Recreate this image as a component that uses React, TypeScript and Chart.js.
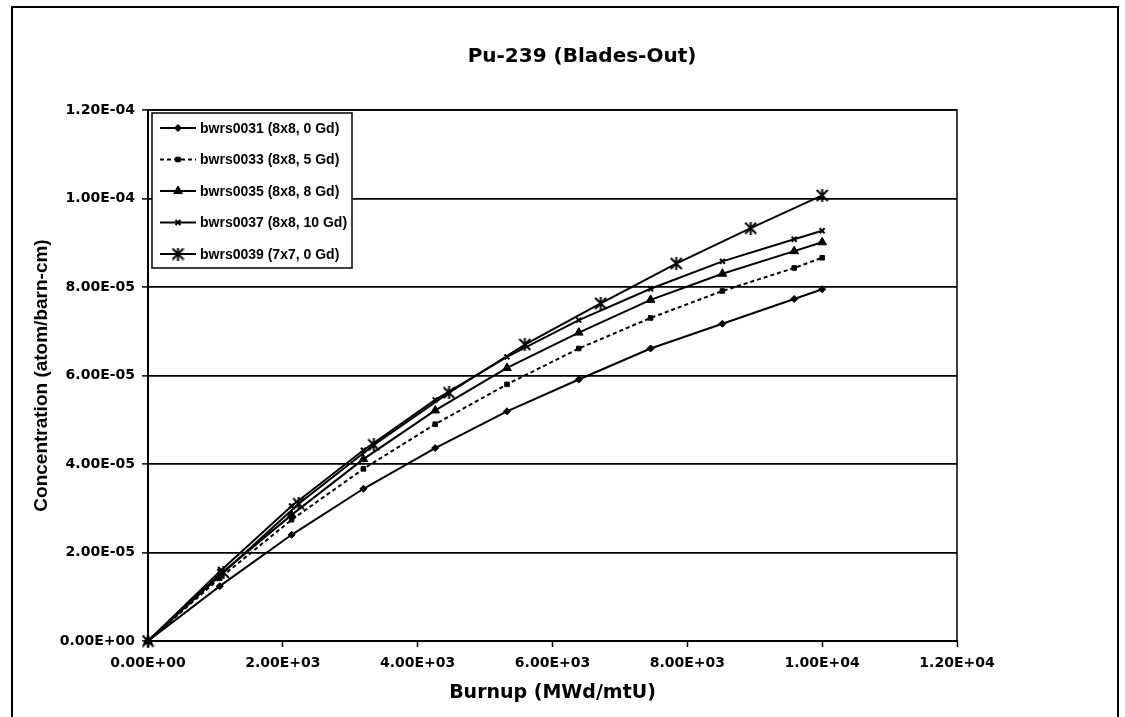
import React, { useEffect, useRef } from "react";
import { Chart, registerables } from "chart.js";
import { drawPoint } from "chart.js/helpers";

Chart.register(...registerables);

const W = 1125;
const H = 717;

const chartTitle = "Pu-239 (Blades-Out)";
const xAxisTitle = "Burnup (MWd/mtU)";
const yAxisTitle = "Concentration (atom/barn-cm)";

const seriesLabels = [
  "bwrs0031 (8x8, 0 Gd)",
  "bwrs0033 (8x8, 5 Gd)",
  "bwrs0035 (8x8, 8 Gd)",
  "bwrs0037 (8x8, 10 Gd)",
  "bwrs0039 (7x7, 0 Gd)",
];

// burnup steps for the 8x8 cases
const burnup8x8 = [0, 1065, 2130, 3195, 4260, 5325, 6390, 7455, 8520, 9585, 10000];
// burnup steps for the 7x7 case
const burnup7x7 = [0, 1120, 2235, 3350, 4465, 5590, 6715, 7835, 8940, 10000];

const bwrs0031 = [0, 1.24e-5, 2.4e-5, 3.44e-5, 4.36e-5, 5.19e-5, 5.91e-5, 6.61e-5, 7.17e-5, 7.73e-5, 7.95e-5];
const bwrs0033 = [0, 1.42e-5, 2.74e-5, 3.89e-5, 4.9e-5, 5.8e-5, 6.61e-5, 7.3e-5, 7.91e-5, 8.43e-5, 8.66e-5];
const bwrs0035 = [0, 1.5e-5, 2.85e-5, 4.11e-5, 5.21e-5, 6.17e-5, 6.97e-5, 7.71e-5, 8.3e-5, 8.81e-5, 9.01e-5];
const bwrs0037 = [0, 1.57e-5, 3.05e-5, 4.31e-5, 5.45e-5, 6.42e-5, 7.25e-5, 7.96e-5, 8.58e-5, 9.08e-5, 9.27e-5];
const bwrs0039 = [0, 1.55e-5, 3.1e-5, 4.43e-5, 5.61e-5, 6.7e-5, 7.63e-5, 8.53e-5, 9.33e-5, 1.007e-4];

const xTickValues = [0, 2000, 4000, 6000, 8000, 10000, 12000];
const xTickLabels = ["0.00E+00", "2.00E+03", "4.00E+03", "6.00E+03", "8.00E+03", "1.00E+04", "1.20E+04"];
const yTickValues = [0, 2e-5, 4e-5, 6e-5, 8e-5, 1e-4, 1.2e-4];
const yTickLabels = ["0.00E+00", "2.00E-05", "4.00E-05", "6.00E-05", "8.00E-05", "1.00E-04", "1.20E-04"];

const markerRadii = [3.5, 3.2, 5, 3.5, 6];
const dashes: number[][] = [[], [4, 3], [], [], []];

const FONT = '"DejaVu Sans", sans-serif';
const ARIAL = '"Liberation Sans", Arial, sans-serif';

function makeAsterisk(size: number) {
  const c = document.createElement("canvas");
  c.width = size;
  c.height = size;
  const g = c.getContext("2d")!;
  g.strokeStyle = "#000";
  g.lineWidth = 2;
  g.lineCap = "butt";
  const m = size / 2;
  const r = size / 2 - 1;
  g.beginPath();
  g.moveTo(m - r, m - r);
  g.lineTo(m + r, m + r);
  g.moveTo(m + r, m - r);
  g.lineTo(m - r, m + r);
  g.moveTo(m, 0);
  g.lineTo(m, size);
  g.stroke();
  return c;
}

function zip(xs: number[], ys: number[]) {
  return ys.map((y, i) => ({ x: xs[i], y }));
}

const seriesData = [
  zip(burnup8x8, bwrs0031),
  zip(burnup8x8, bwrs0033),
  zip(burnup8x8, bwrs0035),
  zip(burnup8x8, bwrs0037),
  zip(burnup7x7, bwrs0039),
];

export default function App() {
  const ref = useRef<HTMLCanvasElement>(null);
  useEffect(() => {
    const canvas = ref.current!;
    const asterisk = makeAsterisk(13);
    const markerStyles: any[] = ["rectRot", "rect", "triangle", "crossRot", asterisk];

    const decorPlugin = {
      id: "decor",
      beforeDraw(chart: any) {
        const ctx = chart.ctx;
        ctx.save();
        ctx.fillStyle = "#fff";
        ctx.fillRect(0, 0, chart.width, chart.height);
        ctx.restore();
      },
      afterDraw(chart: any) {
        const ctx = chart.ctx;
        const a = chart.chartArea;
        ctx.save();
        ctx.strokeStyle = "#000";
        ctx.lineWidth = 2;
        ctx.beginPath();
        ctx.moveTo(12, H);
        ctx.lineTo(12, 7);
        ctx.lineTo(1118, 7);
        ctx.lineTo(1118, H);
        ctx.stroke();
        ctx.lineWidth = 1.5;
        ctx.beginPath();
        ctx.moveTo(a.left, a.top);
        ctx.lineTo(a.right, a.top);
        ctx.lineTo(a.right, a.bottom);
        ctx.stroke();
        ctx.fillStyle = "#000";
        ctx.font = `bold 20px ${FONT}`;
        ctx.textAlign = "center";
        ctx.textBaseline = "middle";
        ctx.fillText(chartTitle, 582, 57);
        ctx.restore();
      },
      afterDatasetsDraw(chart: any) {
        const ctx = chart.ctx;
        ctx.save();
        const bx = 152, by = 113, bw = 200, bh = 155;
        ctx.fillStyle = "#fff";
        ctx.fillRect(bx, by, bw, bh);
        ctx.strokeStyle = "#000";
        ctx.lineWidth = 1.5;
        ctx.strokeRect(bx, by, bw, bh);
        ctx.font = `bold 14px ${ARIAL}`;
        ctx.textAlign = "left";
        ctx.textBaseline = "middle";
        seriesLabels.forEach((label, i) => {
          const y = by + 15 + i * 31.5;
          ctx.strokeStyle = "#000";
          ctx.fillStyle = "#000";
          ctx.lineWidth = 2;
          ctx.setLineDash(dashes[i]);
          ctx.beginPath();
          ctx.moveTo(160, y);
          ctx.lineTo(196, y);
          ctx.stroke();
          ctx.setLineDash([]);
          ctx.lineWidth = i === 3 ? 2 : 1;
          drawPoint(
            ctx,
            {
              pointStyle: markerStyles[i],
              radius: markerRadii[i],
              rotation: 0,
              borderWidth: i === 3 ? 2 : 1,
            } as any,
            178,
            y
          );
          ctx.fillStyle = "#000";
          ctx.fillText(label, 200, y + 1);
        });
        ctx.restore();
      },
    };

    const chart = new Chart(canvas, {
      type: "line",
      data: {
        datasets: seriesData.map((d, i) => ({
          label: seriesLabels[i],
          data: d,
          borderColor: "#000",
          backgroundColor: "#000",
          borderWidth: 2,
          borderDash: dashes[i],
          pointStyle: markerStyles[i],
          pointRadius: markerRadii[i],
          pointBorderWidth: i === 3 ? 2 : 1,
          pointBorderColor: "#000",
          pointBackgroundColor: "#000",
          tension: 0,
          clip: false as any,
        })),
      },
      options: {
        animation: false,
        responsive: false,
        devicePixelRatio: 1,
        events: [],
        layout: { padding: { top: 110, left: 0, right: 168, bottom: 0 } },
        plugins: {
          legend: { display: false },
          title: { display: false },
          tooltip: { enabled: false },
        },
        scales: {
          x: {
            type: "linear",
            min: 0,
            max: 12000,
            afterBuildTicks: (s: any) => {
              s.ticks = xTickValues.map((v) => ({ value: v }));
            },
            afterFit: (s: any) => {
              s.height = H - 641;
            },
            ticks: {
              autoSkip: false,
              maxRotation: 0,
              padding: 8,
              color: "#000",
              font: { family: FONT, size: 14, weight: "bold" },
              callback: (_v: any, i: number) => xTickLabels[i],
            },
            grid: {
              drawOnChartArea: false,
              drawTicks: true,
              tickLength: 6,
              tickColor: "#000",
              tickWidth: 1.5,
            },
            border: { display: true, color: "#000", width: 2 },
            title: {
              display: true,
              text: xAxisTitle,
              color: "#000",
              font: { family: FONT, size: 19, weight: "bold" },
              padding: { top: 0, bottom: 12.6 },
            },
          },
          y: {
            type: "linear",
            min: 0,
            max: 1.2e-4,
            afterBuildTicks: (s: any) => {
              s.ticks = yTickValues.map((v) => ({ value: v }));
            },
            afterFit: (s: any) => {
              s.width = 148;
            },
            ticks: {
              autoSkip: false,
              padding: 7,
              color: "#000",
              font: { family: FONT, size: 14, weight: "bold" },
              callback: (_v: any, i: number) => yTickLabels[i],
            },
            grid: {
              drawOnChartArea: true,
              color: "#000",
              lineWidth: 1.8,
              drawTicks: true,
              tickLength: 6,
              tickColor: "#000",
              tickWidth: 1.5,
            },
            border: { display: true, color: "#000", width: 2 },
            title: {
              display: true,
              text: yAxisTitle,
              color: "#000",
              font: { family: ARIAL, size: 19, weight: "bold" },
              padding: { top: 30.6, bottom: 0 },
            },
          },
        },
      },
      plugins: [decorPlugin],
    } as any);
    return () => chart.destroy();
  }, []);
  return (
    <div style={{ position: "absolute", left: 0, top: 0, width: W, height: H, background: "#fff" }}>
      <canvas ref={ref} width={W} height={H} style={{ width: W, height: H, display: "block" }} />
    </div>
  );
}
